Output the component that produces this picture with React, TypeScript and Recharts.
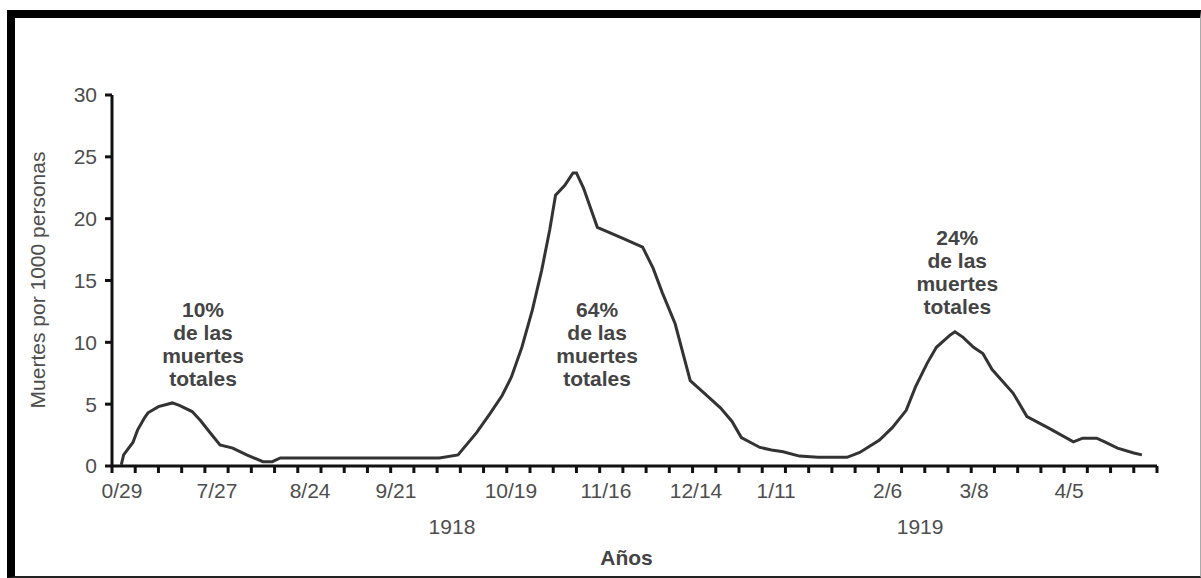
import React from 'react';
import { LineChart, Line, XAxis, YAxis, ReferenceDot } from 'recharts';

// week index (x) and deaths per 1000 persons (y)
const weeks = [
  0.4, 0.5, 0.9, 1.1, 1.4, 1.55, 2.0, 2.6, 2.9, 3.45, 3.8, 4.2, 4.65, 5.2, 5.8, 6.5, 6.9, 7.25, 8.1,
  14.1, 14.9, 15.7, 16.3, 16.8, 17.2, 17.65, 18.1, 18.5, 18.85, 19.1, 19.5, 19.85, 20.0, 20.3, 20.9,
  21.15, 22.0, 22.85, 23.3, 23.7, 24.25, 24.9, 25.5, 26.2, 26.7, 27.1, 27.9, 28.4, 28.9, 29.6, 30.4,
  31.65, 32.2, 33.05, 33.6, 34.2, 34.6, 35.1, 35.5, 36.1, 36.3, 36.65, 37.1, 37.5, 37.9, 38.8, 39.4,
  40.3, 41.4, 41.8, 42.4, 42.75, 43.3, 44.0, 44.35,
];
const deaths = [
  0.1, 0.9, 1.9, 2.9, 3.9, 4.3, 4.8, 5.1, 4.9, 4.4, 3.7, 2.75, 1.7, 1.45, 0.9, 0.35, 0.35, 0.65, 0.65,
  0.65, 0.9, 2.7, 4.3, 5.7, 7.2, 9.6, 12.6, 15.8, 19.1, 21.9, 22.7, 23.7, 23.7, 22.5, 19.3,
  19.1, 18.4, 17.7, 16.0, 14.0, 11.5, 6.9, 5.9, 4.7, 3.6, 2.3, 1.5, 1.3, 1.15, 0.8, 0.7,
  0.7, 1.1, 2.1, 3.1, 4.5, 6.4, 8.3, 9.6, 10.6, 10.85, 10.4, 9.6, 9.1, 7.8, 5.9, 4.0,
  3.1, 1.95, 2.25, 2.25, 1.95, 1.45, 1.05, 0.9,
];

const minorTicks = [
  0, 1, 2, 3, 4, 5, 6, 7, 8, 9, 10, 11, 12, 13, 14, 15, 16, 17, 18, 19, 20, 21, 22,
  23, 24, 25, 26, 27, 28, 29, 30, 31, 32, 33, 34, 35, 36, 37, 38, 39, 40, 41, 42, 43, 44, 45,
];
const dateTickPos = [0.43, 4.52, 8.53, 12.23, 17.18, 21.27, 25.15, 28.6, 33.4, 37.12, 41.21];
const dateTickLabels = ['0/29', '7/27', '8/24', '9/21', '10/19', '11/16', '12/14', '1/11', '2/6', '3/8', '4/5'];
const yearTickPos = [14.64, 34.8];
const yearTickLabels = ['1918', '1919'];
const yTicks = [0, 5, 10, 15, 20, 25, 30];

const annotX = [3.92, 20.89, 36.4];
const annotY = [12.05, 12.05, 17.87];
const annotPct = ['10%', '64%', '24%'];
const annotRest = ['de las', 'muertes', 'totales'];

const data = weeks.map((w, i) => ({ w, d: deaths[i] }));

const FONT = '"Liberation Sans", Arial, Helvetica, sans-serif';

const EmptyTick = () => <g />;

const DateTick = (props: any) => {
  const { x, y, index } = props;
  return (
    <text x={x} y={y} dy={12} textAnchor="middle" fontFamily={FONT} fontSize={21} fill="#4d4d4d">
      {dateTickLabels[index]}
    </text>
  );
};

const YearTick = (props: any) => {
  const { x, y, index } = props;
  return (
    <text x={x} y={y} dy={8} textAnchor="middle" fontFamily={FONT} fontSize={21} fill="#4d4d4d">
      {yearTickLabels[index]}
    </text>
  );
};

const makeAnnot = (i: number) => (props: any) => {
  const vb = props.viewBox || {};
  const cx = (vb.x ?? 0) + (vb.width ?? 0) / 2;
  const cy = (vb.y ?? 0) + (vb.height ?? 0) / 2;
  const lines = [annotPct[i], ...annotRest];
  return (
    <text textAnchor="middle" fontFamily={FONT} fontSize={21} fontWeight="bold" fill="#444">
      {lines.map((l, k) => (
        <tspan key={k} x={cx} y={cy + k * 23}>
          {l}
        </tspan>
      ))}
    </text>
  );
};

export default function App() {
  return (
    <div style={{ position: 'absolute', left: 0, top: 0, width: 1201, height: 578, background: '#fff', overflow: 'hidden' }}>
      <div
        style={{
          position: 'absolute',
          left: 7,
          top: 10,
          width: 1194,
          height: 568,
          boxSizing: 'border-box',
          borderLeft: '8px solid #000',
          borderTop: '8px solid #000',
          borderBottom: '2px solid #222',
          borderRight: '1px solid #aaa',
        }}
      />
      <div style={{ position: 'absolute', left: 0, top: 0 }}>
        <LineChart width={1201} height={578} data={data} margin={{ top: 95, right: 44, left: 0, bottom: 0 }}>
          <XAxis
            dataKey="w"
            type="number"
            domain={[0, 45]}
            ticks={minorTicks}
            interval={0}
            tick={<EmptyTick />}
            tickSize={7}
            tickLine={{ stroke: '#111', strokeWidth: 3 }}
            axisLine={{ stroke: '#111', strokeWidth: 3 }}
            height={20}
            allowDataOverflow
          />
          <XAxis
            xAxisId="lbl"
            dataKey="w"
            type="number"
            domain={[0, 45]}
            ticks={dateTickPos}
            interval={0}
            tick={<DateTick />}
            tickSize={0}
            tickMargin={0}
            tickLine={false}
            axisLine={false}
            height={40}
            allowDataOverflow
          />
          <XAxis
            xAxisId="yr"
            dataKey="w"
            type="number"
            domain={[0, 45]}
            ticks={yearTickPos}
            interval={0}
            tick={<YearTick />}
            tickSize={0}
            tickMargin={0}
            tickLine={false}
            axisLine={false}
            height={52}
            allowDataOverflow
            label={{
              value: 'Años',
              content: (p: any) => {
                const vb = p.viewBox || {};
                return (
                  <text
                    x={(vb.x ?? 0) + (vb.width ?? 0) / 2 - 8}
                    y={(vb.y ?? 0) + 39}
                    textAnchor="middle"
                    fontFamily={FONT}
                    fontSize={21}
                    fontWeight="bold"
                    fill="#444"
                  >
                    Años
                  </text>
                );
              },
            }}
          />
          <YAxis
            type="number"
            domain={[0, 30]}
            ticks={yTicks}
            interval={0}
            width={112}
            tickSize={7}
            tickMargin={8}
            tickLine={{ stroke: '#111', strokeWidth: 3 }}
            axisLine={{ stroke: '#111', strokeWidth: 3 }}
            tick={{ fontFamily: FONT, fontSize: 21, fill: '#4d4d4d' }}
            allowDataOverflow
            label={{
              value: 'Muertes por 1000 personas',
              content: () => (
                <text
                  x={45}
                  y={280}
                  transform="rotate(-90, 45, 280)"
                  textAnchor="middle"
                  fontFamily={FONT}
                  fontSize={21}
                  fill="#4d4d4d"
                >
                  Muertes por 1000 personas
                </text>
              ),
            }}
          />
          <Line
            type="linear"
            dataKey="d"
            stroke="#333"
            strokeWidth={3}
            dot={false}
            isAnimationActive={false}
          />
          {annotX.map((ax, i) => (
            <ReferenceDot
              key={i}
              x={ax}
              y={annotY[i]}
              r={1}
              fill="none"
              stroke="none"
              ifOverflow="visible"
              label={{ content: makeAnnot(i) }}
            />
          ))}
        </LineChart>
      </div>
    </div>
  );
}
